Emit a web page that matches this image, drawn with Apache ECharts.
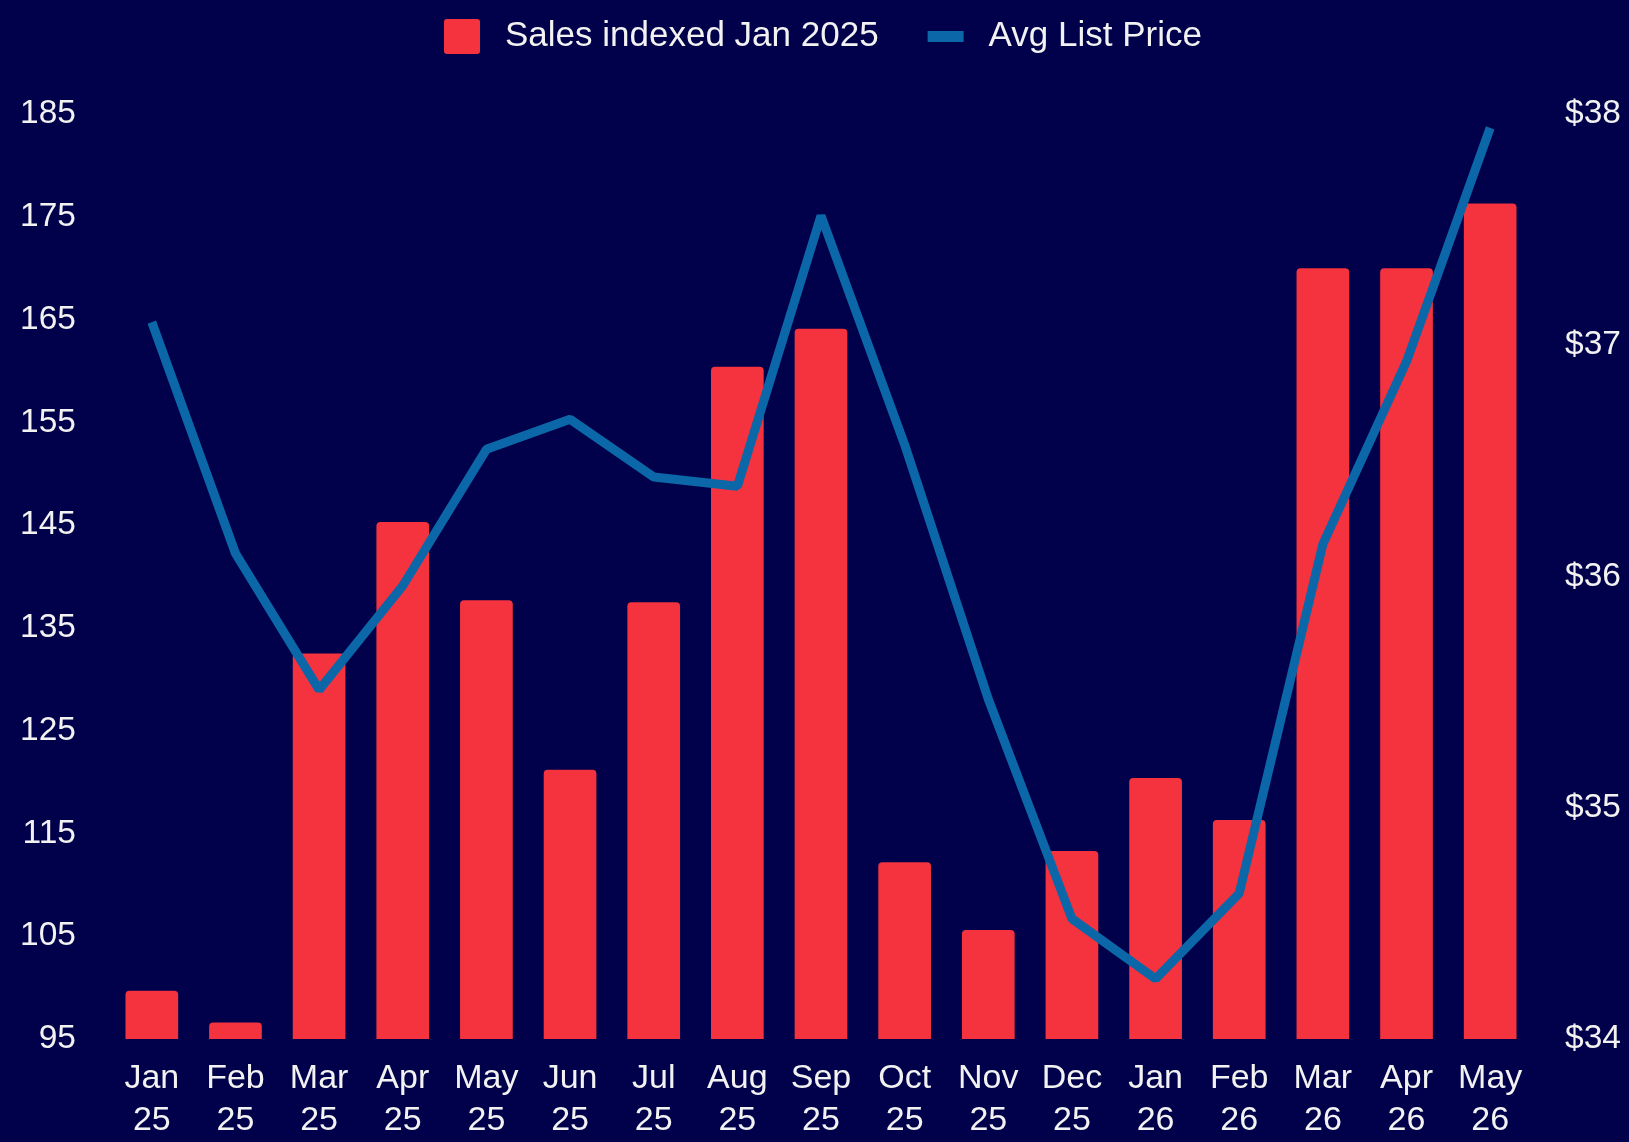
<!DOCTYPE html>
<html>
<head>
<meta charset="utf-8">
<script src="https://cdn.jsdelivr.net/npm/echarts@6/dist/echarts.min.js"></script>
<style>
  html, body { margin: 0; padding: 0; background: #01004a; }
  #chart { width: 1629px; height: 1142px; }
</style>
</head>
<body>
<div id="chart"></div>
<script>
const categories = ['Jan\n25','Feb\n25','Mar\n25','Apr\n25','May\n25','Jun\n25','Jul\n25','Aug\n25','Sep\n25','Oct\n25','Nov\n25','Dec\n25','Jan\n26','Feb\n26','Mar\n26','Apr\n26','May\n26'];
const salesIndexed = [99.7, 96.6, 132.5, 145.3, 137.7, 121.2, 137.5, 160.4, 164.1, 112.2, 105.6, 113.3, 120.4, 116.3, 170.0, 170.0, 176.3];
const avgListPrice = [37.10, 36.10, 35.51, 35.96, 36.55, 36.68, 36.43, 36.39, 37.56, 36.57, 35.47, 34.52, 34.26, 34.63, 36.14, 36.93, 37.94];
const seriesNames = ['Sales indexed Jan 2025', 'Avg List Price'];

const chart = echarts.init(document.getElementById('chart'), null, { renderer: 'canvas' });
const font = '"Liberation Sans", Arial, sans-serif';
chart.setOption({
  backgroundColor: '#01004a',
  animation: false,
  textStyle: { fontFamily: font },
  legend: {
    top: 14,
    left: 439,
    itemWidth: 36,
    itemHeight: 35,
    itemGap: 49,
    textStyle: { color: '#f2f2f2', fontSize: 35, fontFamily: font, padding: [0, 0, 0, 20] },
    data: [
      { name: seriesNames[0], icon: 'path://M3,0h30a3,3,0,0,1,3,3v29a3,3,0,0,1,-3,3h-30a3,3,0,0,1,-3,-3v-29a3,3,0,0,1,3,-3z' },
      { name: seriesNames[1], icon: 'path://M0,0h36v11h-36z' }
    ]
  },
  grid: { left: 110, right: 97, top: 114, bottom: 100, containLabel: false },
  xAxis: {
    type: 'category',
    data: categories,
    axisLine: { show: false },
    axisTick: { show: false },
    axisLabel: { color: '#f2f2f2', fontSize: 34, lineHeight: 42, margin: 19, fontFamily: font, interval: 0 }
  },
  yAxis: [
    {
      type: 'value', min: 95, max: 185, interval: 10,
      splitLine: { show: false }, axisLine: { show: false }, axisTick: { show: false },
      axisLabel: { color: '#f2f2f2', fontSize: 33.5, margin: 34, fontFamily: font }
    },
    {
      type: 'value', min: 34, max: 38, interval: 1,
      splitLine: { show: false }, axisLine: { show: false }, axisTick: { show: false },
      axisLabel: { color: '#f2f2f2', fontSize: 33.5, margin: 33, fontFamily: font, formatter: v => '$' + v }
    }
  ],
  series: [
    {
      name: seriesNames[0], type: 'bar', data: salesIndexed, barWidth: '63%',
      itemStyle: { color: '#f4333f', borderRadius: [4, 4, 0, 0] }
    },
    {
      name: seriesNames[1], type: 'line', yAxisIndex: 1, data: avgListPrice,
      symbol: 'none', z: 5,
      lineStyle: { color: '#0b67a8', width: 9 },
      itemStyle: { color: '#0b67a8' }
    }
  ]
});
</script>
</body>
</html>
